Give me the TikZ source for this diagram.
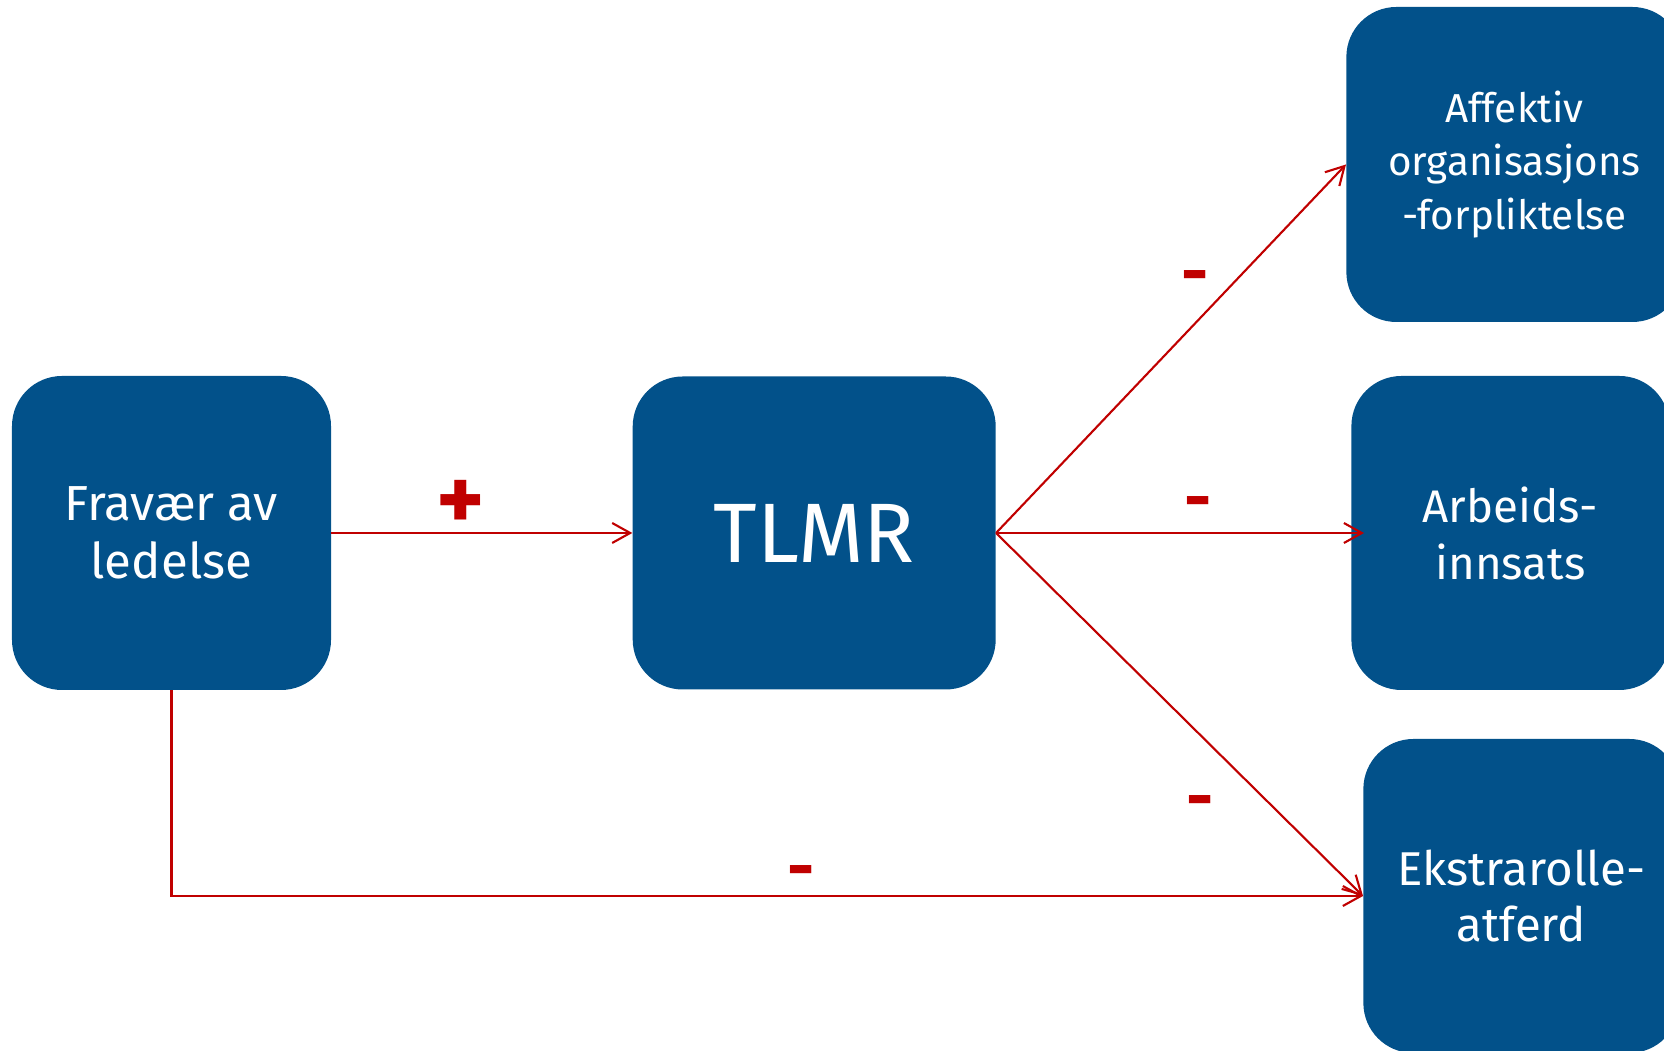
\documentclass[tikz,border=0pt]{standalone}
\usepackage{fontspec}
\setmainfont{Fira Sans}
\usepackage{tikz}
\usetikzlibrary{positioning,arrows.meta}

\definecolor{boxBlue}{HTML}{02518A}
\definecolor{signRed}{HTML}{C00000}

\begin{document}
\begin{tikzpicture}[
    factorNode/.style={rectangle, fill=boxBlue, rounded corners=1cm, minimum width=6.38cm, minimum height=6.28cm, align=center, text=white, font=\fontsize{26}{32.4}\selectfont, inner sep=0pt},
    centerNode/.style={factorNode, minimum width=7.26cm, minimum height=6.26cm, font=\fontsize{48}{56}\selectfont},
    signLabel/.style={font=\bfseries\fontsize{38}{40}\selectfont, text=signRed, inner sep=0pt},
    plusLabel/.style={signLabel, font=\bfseries\fontsize{52}{54}\selectfont},
    redArrow/.style={-{Straight Barb[length=3.6mm, width=4mm]}, line width=1.2pt, draw=signRed},
    redLine/.style={line width=1.2pt, draw=signRed}
]

% fixed canvas, outcome boxes run off the right edge
\useasboundingbox (0,0) rectangle (33.28,21.02);
\clip (0,0) rectangle (33.28,21.02);

% ================= PREDICTOR AND MEDIATOR =================
\node[factorNode, font=\fontsize{28}{33}\selectfont] (fravaer) at (3.43,10.36) {Fravær av\\ledelse};
\node[centerNode, right=6.02cm of fravaer] (tlmr) {TLMR};

% ================= OUTCOMES =================
\node[factorNode, anchor=west, minimum width=6.72cm, minimum height=6.3cm, font=\fontsize{23}{30.5}\selectfont] (affektiv) at (26.92,17.73) {Affektiv\\organisasjons\\-forpliktelse};
\node[factorNode, right=7.1cm of tlmr, minimum width=6.36cm] (arbeid) {Arbeids-\\innsats};
\node[factorNode, anchor=west, minimum width=6.32cm, font=\fontsize{27}{32.4}\selectfont] (ekstra) at (27.26,3.1) {Ekstrarolle-\\atferd};

% ================= ARROWS =================
\draw[redArrow] (fravaer.east) -- node[plusLabel, pos=0.43, yshift=0.56cm] (plusSign) {+} (tlmr.west);
\draw[redArrow] (tlmr.east) -- node[signLabel, pos=0.57, yshift=0.8cm] (minusAff) {-} (affektiv.west);
\draw[redArrow, shorten >=-0.26cm] (tlmr.east) -- node[signLabel, pos=0.57, yshift=0.47cm] (minusArb) {-} (arbeid.west);
\draw[redArrow] (tlmr.east) -- node[signLabel, pos=0.557, yshift=-1.45cm] (minusEks) {-} (ekstra.west);
\draw[redArrow] (fravaer.south) |- node[signLabel, pos=0.764, yshift=0.35cm] (minusDirect) {-} (ekstra.west);

\end{tikzpicture}
\end{document}
